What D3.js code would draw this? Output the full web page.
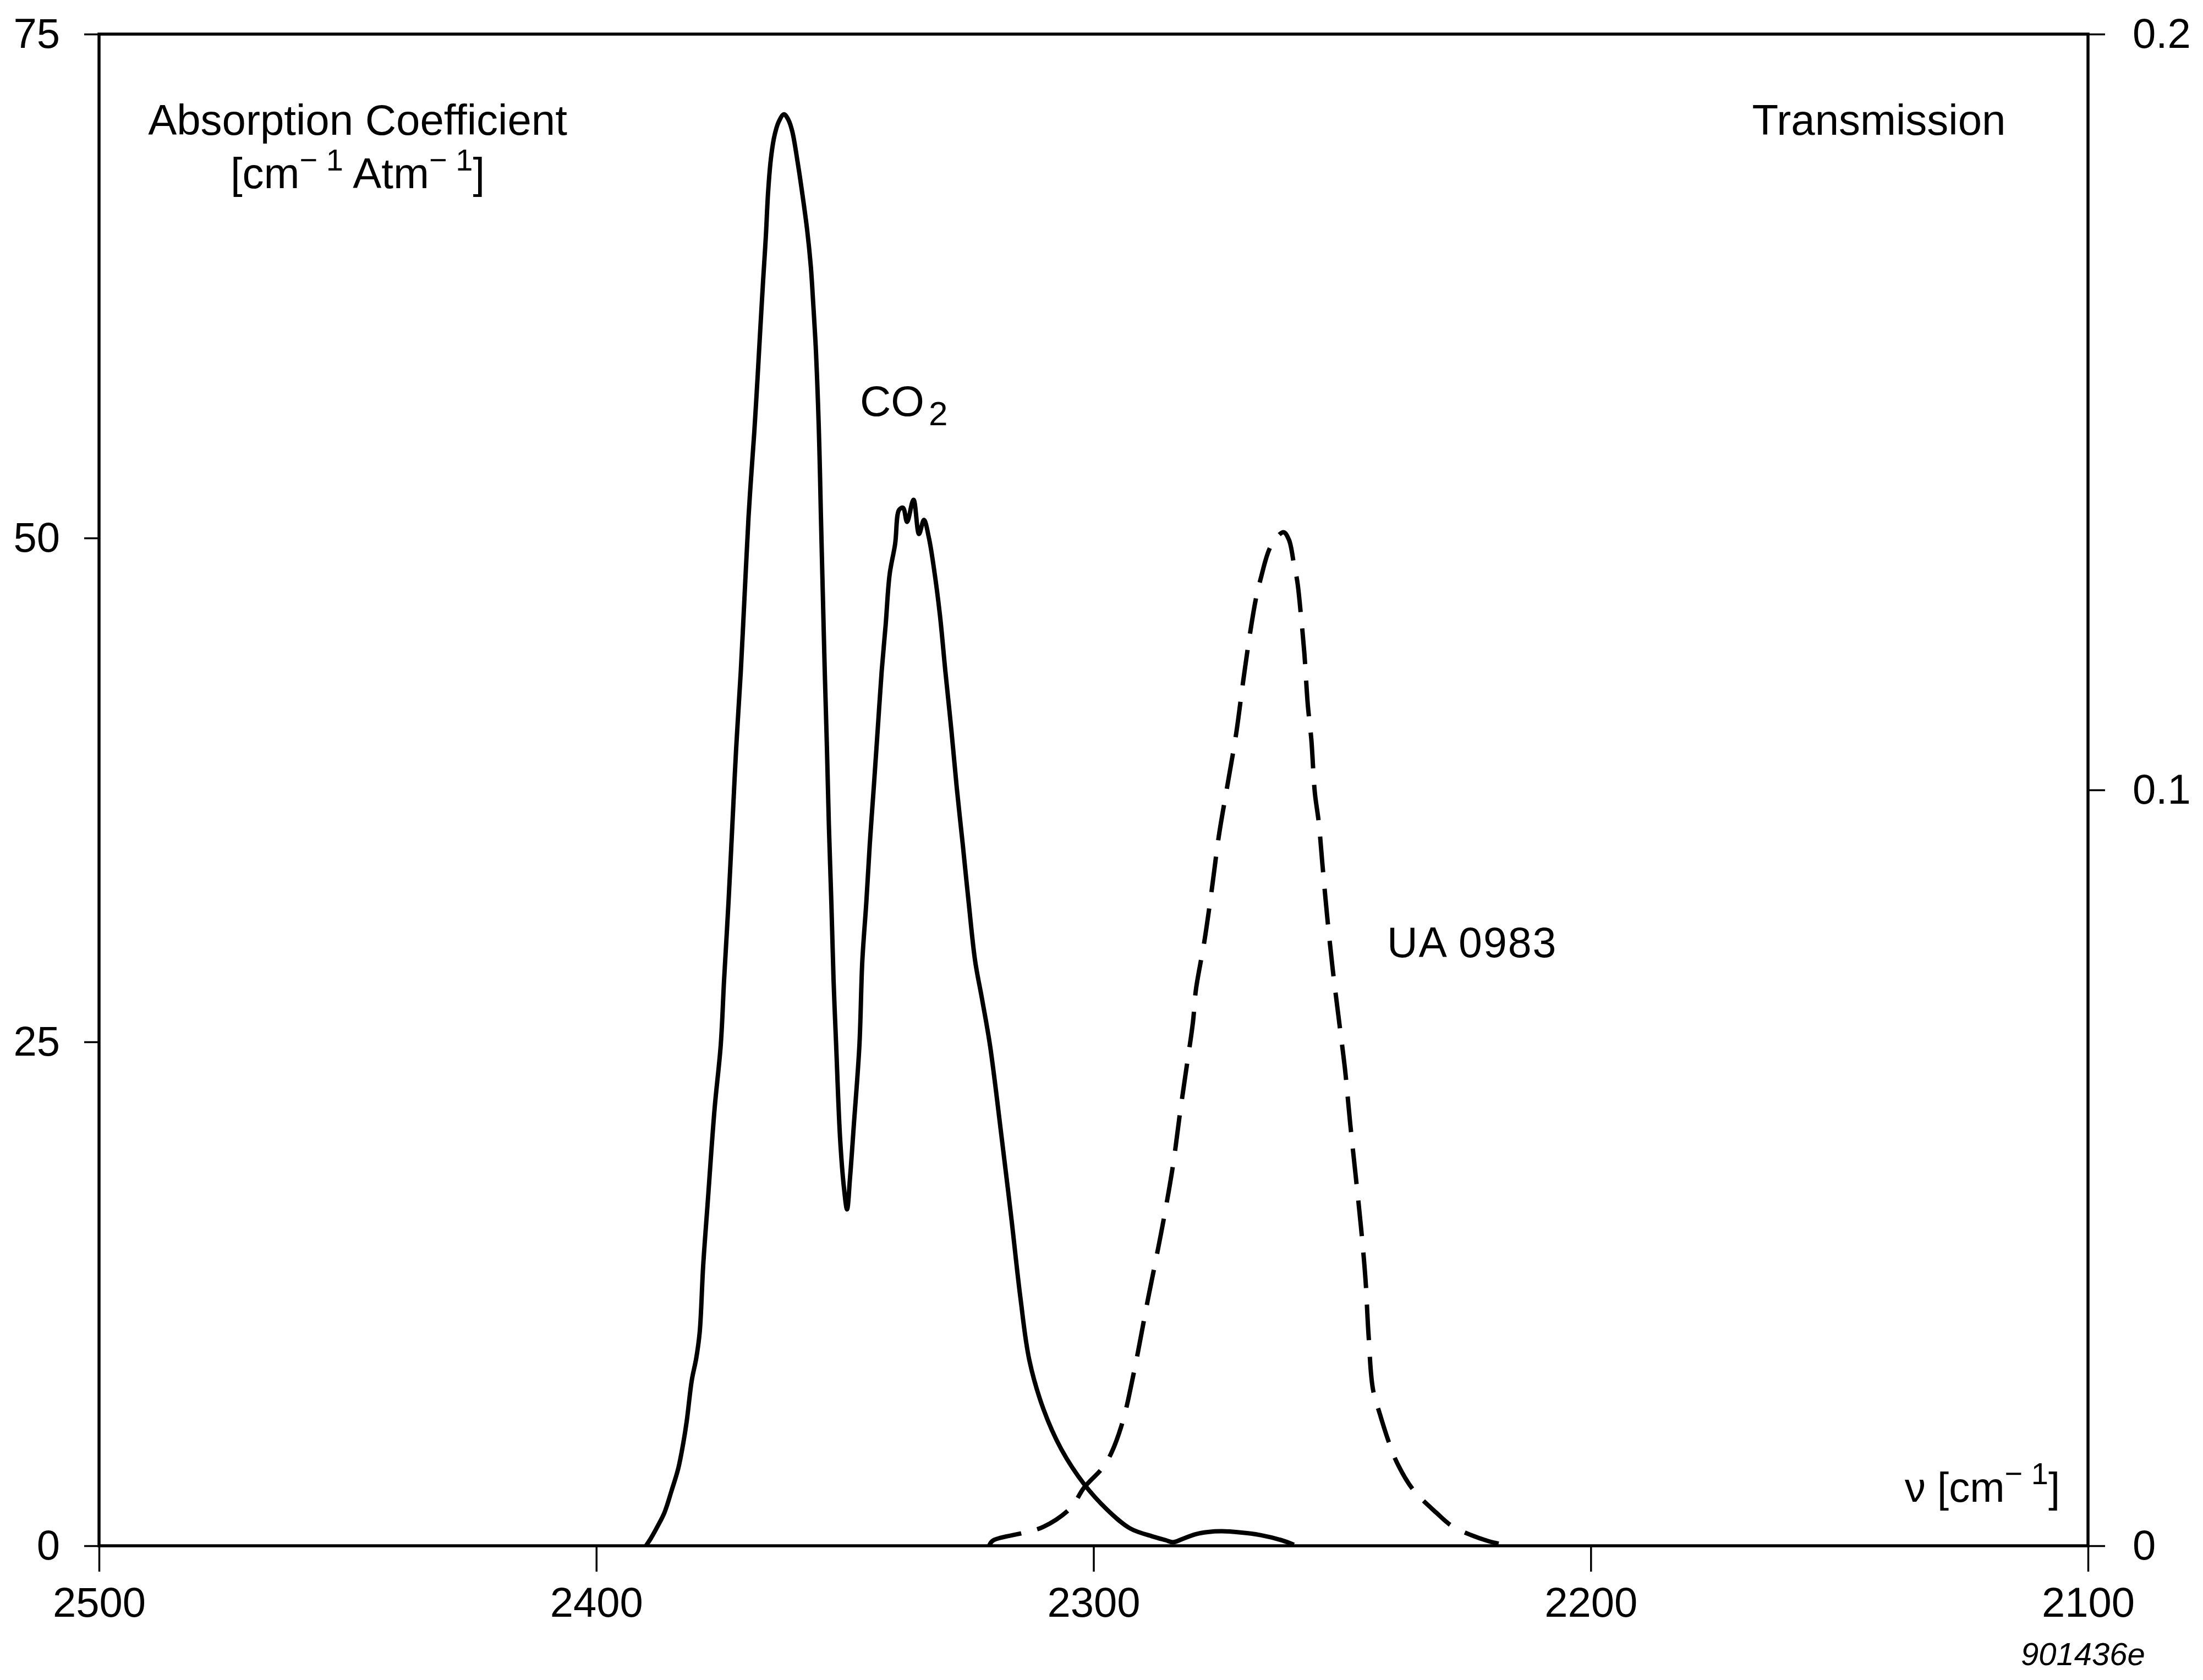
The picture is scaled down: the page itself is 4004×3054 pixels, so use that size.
<!DOCTYPE html>
<html>
<head>
<meta charset="utf-8">
<script src="https://cdn.jsdelivr.net/npm/d3@7"></script>
<style>
  html, body { margin: 0; padding: 0; background: #fff; }
  svg { display: block; }
</style>
</head>
<body>
<svg id="chart"></svg>
<script>
// Axis tick values
const xTickValues = [2500, 2400, 2300, 2200, 2100];
const leftTickValues = [0, 25, 50, 75];
const rightTickValues = [0, 0.1, 0.2];

// CO2 absorption coefficient [cm^-1 Atm^-1] against wavenumber [cm^-1]
const co2Wavenumber = [
  2390.0, 2389.0, 2387.6, 2386.3, 2384.9, 2383.5, 2382.5, 2381.8, 2380.8, 2379.9,
  2379.2, 2378.5, 2377.6, 2376.2, 2374.97, 2374.30, 2373.42, 2372.64, 2371.87, 2370.94,
  2370.16, 2369.38, 2368.88, 2368.22, 2367.56, 2367.00, 2366.45, 2365.90, 2365.45, 2364.90,
  2364.24, 2363.35, 2362.24, 2361.35, 2360.58, 2359.47, 2358.58, 2357.59, 2356.85, 2356.37,
  2355.93, 2355.60, 2355.26, 2355.04, 2354.82, 2354.44, 2354.05, 2353.61, 2353.22, 2352.72,
  2352.28, 2351.76, 2350.95, 2350.18, 2349.57, 2348.96, 2348.19, 2347.08, 2346.5, 2345.7,
  2345.0, 2344.2, 2343.4, 2342.6, 2341.8, 2341.0, 2339.9, 2339.1, 2338.3, 2337.5,
  2336.2, 2335.1, 2334.1, 2333.1, 2332.1, 2330.9, 2329.8, 2328.6, 2327.5, 2326.3,
  2325.1, 2323.8, 2322.4, 2320.8, 2318.4, 2316.5, 2314.7, 2312.9, 2310.1, 2306.5,
  2301.9, 2297.3, 2292.7, 2288.1, 2285.5, 2284.0, 2282.0, 2279.5, 2277.0, 2274.2,
  2270.5, 2266.4, 2262.1, 2259.7
];
const co2Absorption = [
  0.0, 0.38, 1.0, 1.64, 2.7, 3.85, 5.1, 6.2, 8.2, 9.3,
  10.6, 13.9, 17.0, 21.7, 24.84, 28.06, 31.88, 35.73, 39.55, 43.37,
  47.22, 51.04, 52.95, 55.27, 57.97, 60.43, 62.77, 64.96, 67.14, 68.78,
  69.87, 70.63, 71.02, 70.74, 70.17, 68.59, 67.11, 65.28, 63.46, 61.63,
  59.80, 57.97, 55.54, 53.49, 51.04, 47.22, 43.37, 39.55, 35.73, 31.88,
  28.06, 24.84, 20.14, 17.74, 16.69, 18.29, 20.92, 24.84, 29.0, 31.9,
  34.8, 37.6, 40.5, 43.4, 45.7, 48.2, 49.7, 51.4, 51.5, 50.8,
  51.9, 50.2, 50.9, 50.0, 48.5, 46.2, 43.4, 40.5, 37.6, 34.8,
  31.9, 29.0, 27.1, 24.8, 20.1, 16.2, 12.3, 9.2, 6.8, 4.8,
  3.06, 1.8, 0.87, 0.46, 0.28, 0.18, 0.35, 0.57, 0.68, 0.72,
  0.66, 0.53, 0.27, 0.05
];

// UA 0983 transmission against wavenumber [cm^-1]
const uaWavenumber = [
  2321.0, 2320.2, 2314.2, 2310.1, 2304.6, 2301.9, 2298.2, 2296.4, 2294.1, 2291.8,
  2289.0, 2287.2, 2285.8, 2284.0, 2282.6, 2281.2, 2280.0, 2279.4, 2277.7, 2276.2,
  2274.8, 2273.1, 2271.3, 2269.9, 2268.5, 2267.4, 2266.4, 2264.3, 2261.8, 2260.7,
  2259.7, 2259.0, 2258.3, 2257.6, 2256.9, 2256.2, 2255.5, 2254.7, 2254.0, 2253.0,
  2251.9, 2250.5, 2249.4, 2248.4, 2247.3, 2246.2, 2245.3, 2244.7, 2243.8, 2242.4,
  2240.6, 2238.9, 2235.7, 2231.1, 2227.9, 2224.0, 2220.5, 2217.3
];
const uaTransmission = [
  0.0000, 0.0007, 0.0017, 0.0025, 0.0050, 0.0077, 0.0103, 0.0123, 0.0165, 0.0232,
  0.0328, 0.0387, 0.0435, 0.0504, 0.0573, 0.0637, 0.0693, 0.0736, 0.0800, 0.0869,
  0.0939, 0.1005, 0.1075, 0.1144, 0.1208, 0.1251, 0.1279, 0.1323, 0.1341, 0.1331,
  0.1299, 0.1275, 0.1232, 0.1181, 0.1112, 0.1067, 0.0997, 0.0957, 0.0904, 0.0832,
  0.0763, 0.0688, 0.0629, 0.0560, 0.0491, 0.0421, 0.0352, 0.0280, 0.0207, 0.0174,
  0.0137, 0.0109, 0.0074, 0.0044, 0.0026, 0.0014, 0.0006, 0.0001
];

const W = 4004, H = 3054;
const FONT = "'Liberation Sans', Arial, Helvetica, sans-serif";

const svg = d3.select("#chart")
  .attr("width", W)
  .attr("height", H)
  .attr("viewBox", `0 0 ${W} ${H}`);

svg.append("rect").attr("width", W).attr("height", H).attr("fill", "#fff");

const x = d3.scaleLinear().domain([2500, 2100]).range([180, 3795]);
const yLeft = d3.scaleLinear().domain([0, 75]).range([2810, 62]);
const yRight = d3.scaleLinear().domain([0, 0.2]).range([2810, 62]);

// Plot frame
svg.append("rect")
  .attr("x", x.range()[0])
  .attr("y", yLeft.range()[1])
  .attr("width", x.range()[1] - x.range()[0])
  .attr("height", yLeft.range()[0] - yLeft.range()[1])
  .attr("fill", "none")
  .attr("stroke", "#000")
  .attr("stroke-width", 5.5);

function styleAxis(g) {
  g.select(".domain").remove();
  g.selectAll(".tick line").attr("stroke", "#000").attr("stroke-width", 3.5);
  g.selectAll(".tick text")
    .attr("fill", "#000")
    .style("font-family", FONT)
    .style("font-size", "76px");
}

// Bottom axis: wavenumber
svg.append("g")
  .attr("transform", `translate(0,${yLeft.range()[0]})`)
  .call(d3.axisBottom(x).tickValues(xTickValues).tickSize(47).tickPadding(28).tickFormat(d3.format("d")))
  .call(styleAxis);

// Left axis: absorption coefficient
svg.append("g")
  .attr("transform", `translate(${x.range()[0]},0)`)
  .call(d3.axisLeft(yLeft).tickValues(leftTickValues).tickSize(27).tickPadding(44).tickFormat(d3.format("d")))
  .call(styleAxis);

// Right axis: transmission
svg.append("g")
  .attr("transform", `translate(${x.range()[1]},0)`)
  .call(d3.axisRight(yRight).tickValues(rightTickValues).tickSize(31).tickPadding(50)
    .tickFormat(d => d === 0 ? "0" : d3.format(".1f")(d)))
  .call(styleAxis);

// Curves
const co2Line = d3.line()
  .x((d, i) => x(co2Wavenumber[i]))
  .y(d => yLeft(d))
  .curve(d3.curveCatmullRom.alpha(0.5));

const uaLine = d3.line()
  .x((d, i) => x(uaWavenumber[i]))
  .y(d => yRight(d))
  .curve(d3.curveCatmullRom.alpha(0.5));

svg.append("path")
  .datum(co2Absorption)
  .attr("d", co2Line)
  .attr("fill", "none")
  .attr("stroke", "#000")
  .attr("stroke-width", 8)
  .attr("stroke-linejoin", "round");

svg.append("path")
  .datum(uaTransmission)
  .attr("d", uaLine)
  .attr("fill", "none")
  .attr("stroke", "#000")
  .attr("stroke-width", 8)
  .attr("stroke-dasharray", "65 30");

// Text labels
function label(xp, yp, anchor, size) {
  return svg.append("text")
    .attr("x", xp).attr("y", yp)
    .attr("text-anchor", anchor)
    .attr("fill", "#000")
    .style("font-family", FONT)
    .style("font-size", size + "px");
}

label(650, 245, "middle", 78).text("Absorption Coefficient");

const unitsLeft = label(650, 342, "middle", 78);
unitsLeft.append("tspan").text("[cm");
unitsLeft.append("tspan").attr("dy", -32).style("font-size", "56px").text("\u2212 1");
unitsLeft.append("tspan").attr("dy", 32).text(" Atm");
unitsLeft.append("tspan").attr("dy", -32).style("font-size", "56px").text("\u2212 1");
unitsLeft.append("tspan").attr("dy", 32).text("]");

label(3415, 245, "middle", 78).text("Transmission");

const co2Label = label(1563, 756, "start", 78);
co2Label.append("tspan").text("CO");
co2Label.append("tspan").attr("dx", 8).attr("dy", 17).style("font-size", "62px").text("2");

label(2521, 1740, "start", 77).style("letter-spacing", "2px").text("UA 0983");

const nuLabel = label(3744, 2730, "end", 76);
nuLabel.append("tspan").text("\u03bd [cm");
nuLabel.append("tspan").attr("dy", -32).style("font-size", "56px").text("\u2212 1");
nuLabel.append("tspan").attr("dy", 32).text("]");

label(3673, 3027, "start", 58).style("font-style", "italic").text("901436e");
</script>
</body>
</html>
